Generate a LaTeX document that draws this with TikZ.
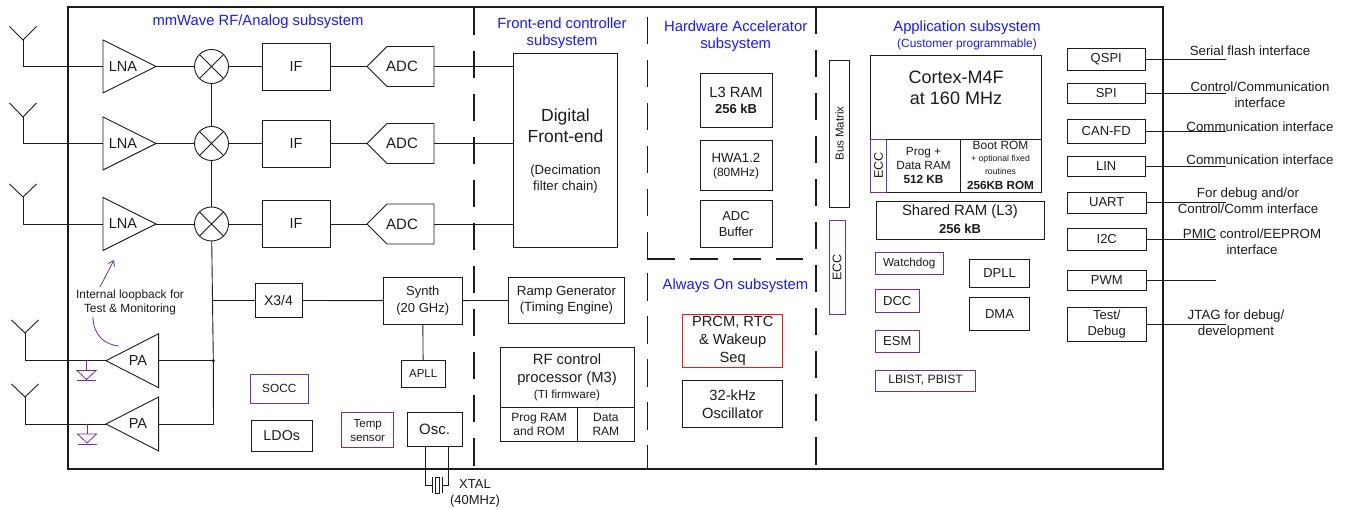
\documentclass[tikz,border=0pt]{standalone}
\usepackage{fontspec}
\setmainfont{Liberation Sans}
\usetikzlibrary{arrows.meta,calc}
\definecolor{ink}{HTML}{1C1C1C}
\definecolor{tipurple}{HTML}{7030A0}
\definecolor{tiblue}{HTML}{1A1AF5}
\definecolor{tired}{HTML}{F01818}
\newcommand\fs[1]{\fontsize{#1}{#1}\selectfont}
\newcommand\fz[2]{\fontsize{#1}{#2}\selectfont}
\newcommand\BX[6][]{\node[boxed,#1,minimum width={(#5-#3)*1pt},minimum height={(#6-#4)*1pt}] at ({(#3+#5)/2},{(#4+#6)/2}) (#2) {};}
\newcommand\BT[7][]{\node[boxed,#1,minimum width={(#5-#3)*1pt},minimum height={(#6-#4)*1pt}] at ({(#3+#5)/2},{(#4+#6)/2}) (#2) {#7};}
\newcommand\Ant[4]{% name, x, ytop, yjoin
  \coordinate (#1j) at (#2,#4);
  \coordinate (#1l) at ({#2-13.5},#3);
  \coordinate (#1r) at ({#2+13.5},#3);
  \draw[wire] (#1l) -- (#1j) -- (#1r);}
\newcommand\LNA[2]{% name, yc
  \coordinate (#1w) at (103,#2);
  \coordinate (#1e) at (156,#2);
  \draw[wire] (103,{#2-26.5}) -- (#1e) -- (103,{#2+26.5}) -- cycle;
  \node[txt,font=\fs{14.5}] (#1t) at (123,#2) {LNA};}
\newcommand\PA[2]{% name, yc
  \coordinate (#1w) at (106,#2);
  \coordinate (#1e) at (158.6,#2);
  \draw[wire] (158.6,{#2-27}) -- (#1w) -- (158.6,{#2+27}) -- cycle;
  \node[txt,font=\fs{14.5}] (#1t) at (138,#2) {PA};}
\newcommand\ADC[2]{% name, yc
  \coordinate (#1w) at (367,#2);
  \coordinate (#1e) at (434,#2);
  \draw[wire] (#1w) -- (387,{#2-20}) -- (434,{#2-20}) -- (#1e) -- (434,{#2+20}) -- (387,{#2+20}) -- cycle;
  \node[txt,font=\fs{15}] (#1t) at (402,#2) {ADC};}
\newcommand\Mix[3]{% name, x, y
  \node[mixer] (#1) at (#2,#3) {};
  \draw[wire] (#1.45) -- (#1.225) (#1.135) -- (#1.315);}
\newcommand\Gnd[3]{% x, ytop, name
  \coordinate (#3) at (#1,{#2+9.5});
  \draw[purple wire] (#1,#2) -- (#3);
  \draw[purple wire] ({#1-9.5},{#2+9.5}) -- ({#1+9.5},{#2+9.5}) -- (#1,{#2+18.5}) -- cycle;
  \draw[purple wire] ({#1-9.5},{#2+19.5}) -- ({#1+9.5},{#2+19.5});}
\tikzset{
  wire/.style={line width=0.9pt,ink},
  purple wire/.style={line width=0.8pt,tipurple},
  boxed/.style={draw=ink,line width=0.9pt,inner sep=0pt,outer sep=0pt,align=center,text=ink,font=\fs{13}},
  pbox/.style={draw=tipurple},
  txt/.style={inner sep=0pt,outer sep=0pt,align=center,text=ink,font=\fs{12.5}},
  title/.style={inner sep=0pt,outer sep=0pt,align=center,text=tiblue,font=\fs{14.8}},
  mixer/.style={circle,draw=ink,line width=0.9pt,minimum size=34pt,inner sep=0pt,outer sep=0pt},
  dashline/.style={line width=1.5pt,ink,dash pattern=on 27.5pt off 15.5pt},
}
\begin{document}
\begin{tikzpicture}[x=1pt,y=-1pt]
\useasboundingbox (0,0) rectangle (1347,510);
\fill[white] (0,0) rectangle (1347,510);
% outer chip boundary
\node[draw=ink,line width=1.6pt,inner sep=0pt,outer sep=0pt,minimum width=1095pt,minimum height=462pt] (chip) at (615.75,238) {};
% partitions
\draw[dashline] (474,8) -- (474,469);
\draw[dashline] (647.3,17) -- (647.3,259);
\draw[dashline] (647.3,259) -- (803,259);
\draw[dashline] (647.3,273.5) -- (647.3,469);
\draw[dashline] (816,7) -- (816,469);
% titles
\node[title] (t1) at (258,22) {mmWave RF/Analog subsystem};
\node[title,font=\fz{14.8}{17}] (t2) at (562,33) {Front-end controller\\subsystem};
\node[title,font=\fz{14.8}{17}] (t3) at (735.7,36) {Hardware Accelerator\\subsystem};
\node[title] (t4) at (735.5,286) {Always On subsystem};
\node[title] (t5) at (967,28) {Application subsystem};
\node[title,font=\fs{11.9}] (t6) at (967,44) {(Customer programmable)};
% RF rows
\Ant{a1}{23}{26.5}{40}\Ant{a2}{23}{103}{117}\Ant{a3}{23}{184}{197}
\LNA{l1}{66.5}\LNA{l2}{143.5}\LNA{l3}{224}
\Mix{m1}{211.5}{66.5}\Mix{m2}{211.5}{143.5}\Mix{m3}{211.5}{224}
\BT[font=\fs{14.5}]{if1}{262}{43}{330}{90}{IF}
\BT[font=\fs{14.5}]{if2}{262}{120}{330}{167}{IF}
\BT[font=\fs{14.5}]{if3}{262}{200.5}{330}{247.5}{IF}
\ADC{c1}{66.5}\ADC{c2}{143.5}\ADC{c3}{224}
\BX{dfe}{513.7}{53.5}{617.3}{247}
\node[txt,font=\fz{17.5}{21}] (dfet) at (565.5,125.5) {Digital\\Front-end};
\node[txt,font=\fz{13.2}{16}] (dfes) at (565.5,179) {(Decimation\\filter chain)};
\foreach \i in {1,2,3}{
  \draw[wire] (a\i j) |- (l\i w);
  \draw[wire] (l\i e) -- (m\i);
  \draw[wire] (m\i) -- (if\i);
  \draw[wire] (if\i) -- (c\i w);
  \draw[wire] (c\i e) -- (c\i e -| dfe.west);
}
% LO
\coordinate (dot) at (213.3,360.7);
\coordinate (pj) at (213.5,424);
\draw[wire] (m1) -- (m2);
\draw[wire] (m2) -- (m3);
\draw[wire] (m3) -- (dot) -- (pj);
\fill[ink] (dot) circle (1.7pt);
\BT[font=\fs{14}]{x34}{255}{283.5}{302}{317.5}{X3/4}
\BT[font=\fz{13}{16.5}]{syn}{383.5}{277.3}{462}{324}{Synth\\(20 GHz)}
\BT[font=\fs{11.5}]{apll}{401.3}{360.7}{445}{387.3}{APLL}
\BT[font=\fz{13.3}{16}]{ramp}{508.7}{277}{624.3}{323.7}{Ramp Generator\\(Timing Engine)}
\coordinate (xm) at (x34.west -| m3);
\draw[wire] (xm) -- (x34.west);
\draw[wire] (x34) -- (syn);
\draw[wire] (syn) -- (ramp);
\draw[wire] (syn) -- (apll);
% PA
\Ant{a4}{25}{320}{333}\Ant{a5}{25}{384}{397}
\PA{p1}{360.7}\PA{p2}{424}
\draw[wire] (a4j) |- (p1w);
\draw[wire] (a5j) |- (p2w);
\draw[wire] (p1e) -- (dot);
\draw[wire] (p2e) -- (pj);
\Gnd{86.5}{361}{g1}\Gnd{87}{424.5}{g2}
% loopback
\node[txt,font=\fz{11.9}{14}] (lb) at (130,302) {Internal loopback for\\Test \& Monitoring};
\coordinate (ar1) at (100,287);
\coordinate (ar2) at (114,260);
\coordinate (cv1) at (93,317);
\coordinate (cv2) at (119,346);
\draw[purple wire,-{Straight Barb[length=5pt,width=7pt]}] (ar1) -- (ar2);
\draw[purple wire] (cv1) .. controls (93,335) and (105,345) .. (cv2);
% misc analog
\BT[pbox,font=\fs{11.8}]{socc}{250}{374}{308.5}{403.2}{SOCC}
\BT[font=\fs{14.3}]{ldo}{251.5}{420.7}{312}{451}{LDOs}
\BT[pbox,font=\fz{11.6}{14}]{temp}{341.7}{412.7}{393.7}{447.7}{Temp\\sensor}
\BT[font=\fs{15}]{osc}{407}{412.7}{462}{446}{Osc.}
% crystal
\coordinate (xl) at (425.7,446);
\coordinate (xr) at (448.7,446);
\node[draw=ink,line width=0.7pt,inner sep=0pt,outer sep=0pt,minimum width=4pt,minimum height=16pt] (xt) at (437.2,485) {};
\coordinate (xpl) at (432,485);
\coordinate (xpr) at (442.3,485);
\draw[wire] (xl) |- (xpl);
\draw[wire] (xr) |- (xpr);
\draw[wire] (432,477) -- (432,493) (442.3,477) -- (442.3,493);
\node[txt,font=\fz{13}{16.5}] (xtal) at (475,493.5) {XTAL\\(40MHz)};
% RF control
\BX{rfc}{500.5}{347.5}{634}{407}
\node[txt,font=\fz{14.8}{18}] (rfct) at (567,370) {RF control\\processor (M3)};
\node[txt,font=\fs{11.7}] (rfcs) at (567,395) {(TI firmware)};
\BT[font=\fz{12}{14}]{prg}{500.5}{407}{577.7}{441}{Prog RAM\\and ROM}
\BT[font=\fz{12}{14}]{dat}{577.7}{407}{634}{441}{Data\\RAM}
% HWA
\BX{l3r}{700}{73.5}{772}{127}
\node[txt,font=\fs{14.8}] (l3a) at (736,92) {L3 RAM};
\node[txt,font=\bfseries\fs{13}] (l3b) at (736,108.5) {256 kB};
\BX{hwa}{700}{140.3}{772}{190.5}
\node[txt,font=\fs{13.2}] (hwb) at (736,157.5) {HWA1.2};
\node[txt,font=\fs{12}] (hwc) at (736,173) {(80MHz)};
\BT[font=\fz{13}{16}]{adb}{700}{200.5}{772}{247}{ADC\\Buffer}
% Always on
\BT[draw=tired,font=\fz{14.7}{18}]{prcm}{682.7}{314}{782.7}{367}{PRCM, RTC\\\& Wakeup\\Seq}
\BT[font=\fz{14.7}{18}]{osc32}{682.7}{380.7}{782.7}{427.3}{32-kHz\\Oscillator}
% Application
\BX{cpu}{870.3}{55}{1041.7}{139}
\node[txt,font=\fz{18}{21}] (cput) at (956,88) {Cortex-M4F\\at 160 MHz};
\BX{mem}{886.7}{139}{960}{192}
\node[txt,font=\fz{11.8}{14}] (memt) at (923.5,165.5) {Prog +\\Data RAM\\\bfseries 512 KB};
\BX{rom}{960}{139}{1041.7}{192}
\node[txt,font=\fs{11.9}] (romt1) at (1000.5,145) {Boot ROM};
\node[txt,font=\fz{8.7}{13}] (romt2) at (1000.5,164.5) {+ optional fixed\\routines};
\node[txt,font=\bfseries\fs{11.7}] (romt3) at (1000.5,185) {256KB ROM};
\BX[pbox]{ecc1}{870.3}{139}{886.7}{192}
\node[txt,rotate=90,font=\fs{12.5}] (ecc1t) at (ecc1) {ECC};
\BX{shr}{876}{201}{1044.5}{239.5}
\node[txt,font=\fs{14.9}] (shra) at (960,212) {Shared RAM (L3)};
\node[txt,font=\bfseries\fs{13}] (shrb) at (960,228.5) {256 kB};
\BX{bus}{829.5}{60}{849.5}{207}
\node[txt,rotate=90,font=\fs{11.5}] (bust) at (bus) {Bus Matrix};
\BX[pbox]{ecc2}{829}{220.5}{845}{314}
\node[txt,rotate=90,font=\fs{12.5}] (ecc2t) at (ecc2) {ECC};
\BT[pbox,font=\fs{11.7}]{wd}{875.5}{252}{943}{274}{Watchdog}
\BT[pbox]{dcc}{875.5}{289.5}{919}{312}{DCC}
\BT[pbox]{esm}{875.5}{330}{919}{352}{ESM}
\BT[pbox,font=\fs{12.2}]{lb2}{875.5}{370}{975.7}{391}{LBIST, PBIST}
\BT{dpll}{969.5}{259.5}{1029.5}{287}{DPLL}
\BT{dma}{969.5}{297.5}{1029.5}{330}{DMA}
% peripherals
\tikzset{per/.style={font=\fs{13}}, ptxt/.style={txt,font=\fz{13.3}{16}}}
\BT[per]{qspi}{1067}{48}{1145.5}{70}{QSPI}
\BT[per]{spi}{1067}{83}{1145.5}{103}{SPI}
\BT[per]{can}{1067}{119.5}{1145.5}{143}{CAN-FD}
\BT[per]{lin}{1067}{156}{1145.5}{176.5}{LIN}
\BT[per]{uart}{1067.5}{192}{1146}{213}{UART}
\BT[per]{iic}{1067.5}{228}{1146}{250}{I2C}
\BT[per]{pwm}{1067.5}{270}{1146}{290}{PWM}
\BT[per,font=\fz{13}{16}]{dbg}{1067.5}{307.5}{1146}{341}{Test/\\Debug}
\foreach \n/\e in {qspi/1226,spi/1226,can/1226,lin/1226,uart/1226,iic/1216,pwm/1216,dbg/1226}{
  \coordinate (\n e) at (\e,0);
  \draw[wire] (\n.east) -- (\n.east -| \n e);
}
\node[ptxt] (q1) at (1250,50.5) {Serial flash interface};
\node[ptxt] (q2) at (1260,94.5) {Control/Communication\\interface};
\node[ptxt] (q3) at (1260,126.5) {Communication interface};
\node[ptxt] (q4) at (1260,159.5) {Communication interface};
\node[ptxt] (q5) at (1248,201) {For debug and/or\\Control/Comm interface};
\node[ptxt] (q6) at (1252,241.5) {PMIC control/EEPROM\\interface};
\node[ptxt] (q7) at (1236,324) {JTAG for debug/\\development};
\end{tikzpicture}
\end{document}
